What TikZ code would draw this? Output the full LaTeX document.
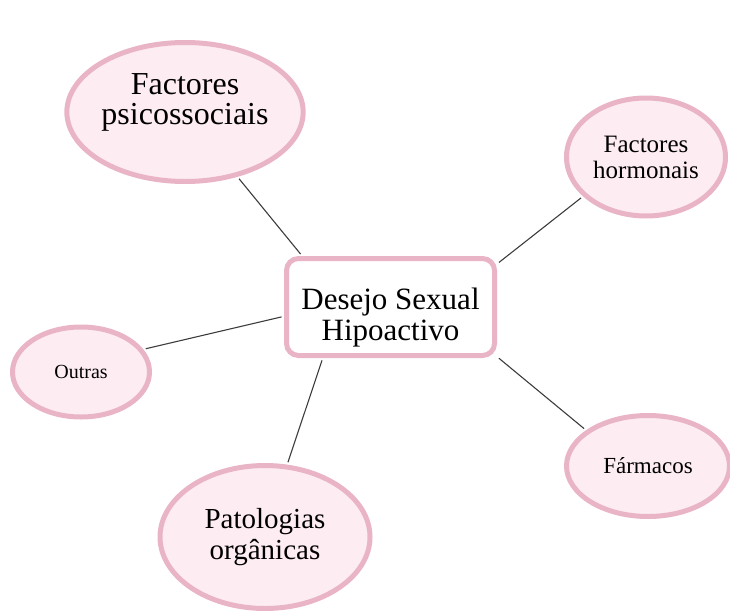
\documentclass[tikz,border=0pt]{standalone}
\usepackage{fontspec}
\setmainfont{Liberation Serif}
\usetikzlibrary{shapes.geometric}
\definecolor{pinkline}{RGB}{234,180,199}
\definecolor{pinkfill}{RGB}{253,236,242}
\definecolor{linkgray}{RGB}{60,60,60}
\tikzset{
  bubble/.style={ellipse, draw=pinkline, fill=pinkfill, line width=5pt, inner sep=0pt, align=center, text=black},
  centrebox/.style={rectangle, rounded corners=12pt, draw=pinkline, fill=white, line width=5pt, inner sep=0pt, align=center, text=black},
  link/.style={draw=linkgray, line width=1.1pt, shorten <=2.5pt, shorten >=2.5pt}
}
\begin{document}
\begin{tikzpicture}[x=1pt,y=-1pt]
\useasboundingbox (0,0) rectangle (730,610);
\node[centrebox, minimum width=208pt, minimum height=97pt, font=\fontsize{31}{31}\selectfont] (c) at (390.5,307)
  {\rule{0pt}{43pt}Desejo Sexual\\ Hipoactivo};
\node[bubble, minimum width=235pt, minimum height=139pt, font=\fontsize{32}{30}\selectfont] (psi) at (185,112)
  {Factores\\ psicossociais\rule[-25pt]{0pt}{1pt}};
\node[bubble, minimum width=159pt, minimum height=118pt, font=\fontsize{25}{26}\selectfont] (hor) at (646,157)
  {Factores\\ hormonais};
\node[bubble, minimum width=137pt, minimum height=90pt, font=\fontsize{20}{22}\selectfont] (out) at (81,372)
  {Outras};
\node[bubble, minimum width=163pt, minimum height=101pt, font=\fontsize{23}{25}\selectfont] (far) at (648,466)
  {Fármacos};
\node[bubble, minimum width=210pt, minimum height=143pt, font=\fontsize{29}{31}\selectfont] (pat) at (265,537)
  {Patologias\\ orgânicas};
\draw[link] (psi.-51.7) -- (c.150.4);
\draw[link] (c.22.4) -- (hor.212.9);
\draw[link] (c.-25.6) -- (far.150.2);
\draw[link] (out.20.4) -- (c.185.95);
\draw[link] (c.217.7) -- (pat.73.4);
\end{tikzpicture}
\end{document}
